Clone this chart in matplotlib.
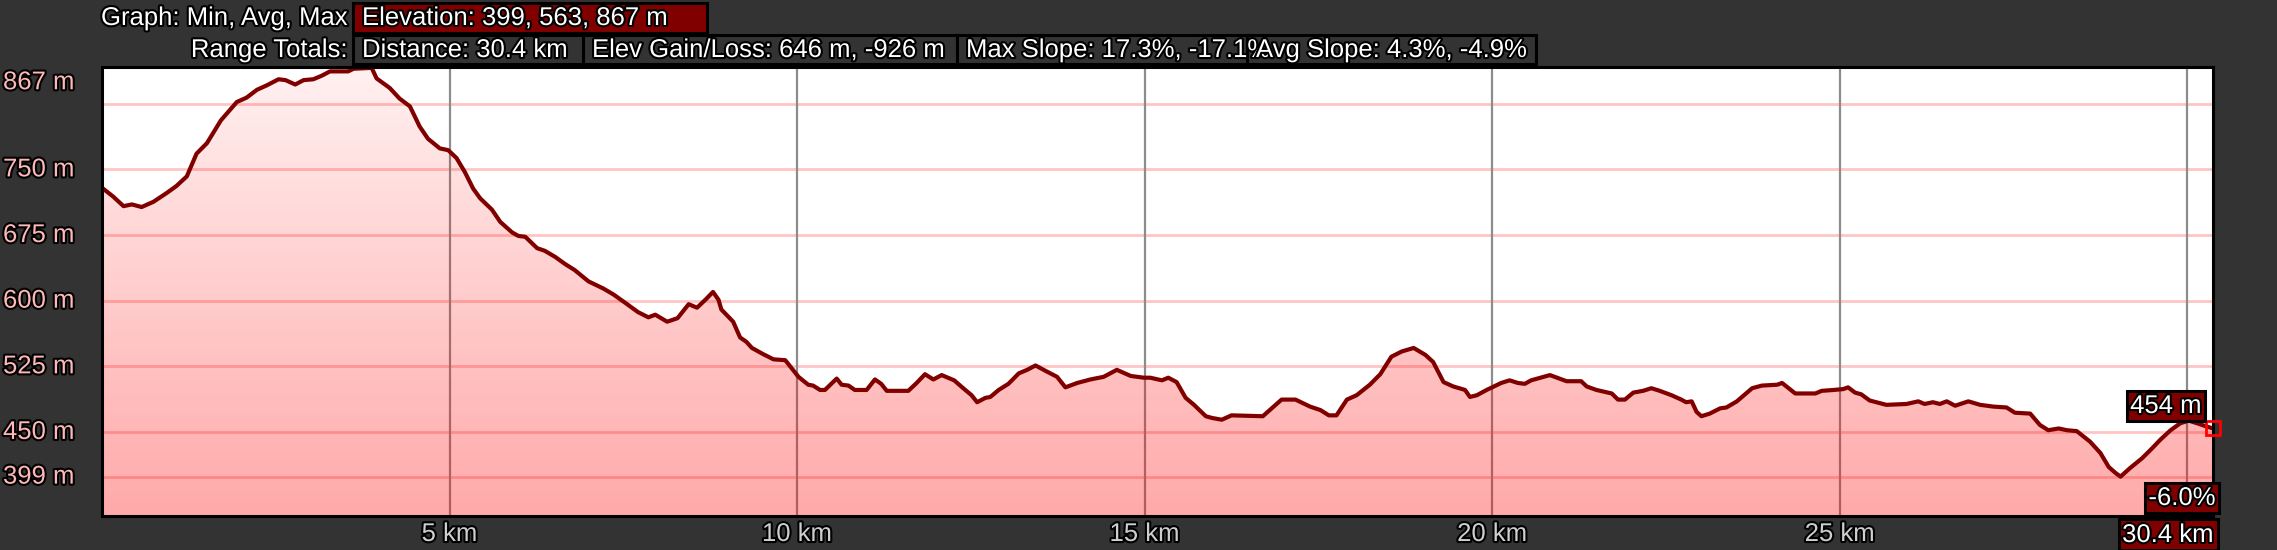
import numpy as np
import matplotlib
matplotlib.use("Agg")
import matplotlib.pyplot as plt
import matplotlib.patheffects as pe
from matplotlib.patches import Rectangle
from matplotlib.transforms import blended_transform_factory

plt.rcParams['font.family'] = ['Liberation Sans', 'DejaVu Sans']

# elevation profile
dist_km = [0.00, 0.16, 0.31, 0.43, 0.57, 0.74, 0.93, 1.07, 1.22, 1.36, 1.51, 1.71, 1.94, 2.08,
           2.23, 2.37, 2.54, 2.64, 2.78, 2.90, 3.04, 3.16, 3.28, 3.54, 3.62, 3.88, 3.95, 4.14,
           4.28, 4.43, 4.57, 4.69, 4.86, 4.98, 5.10, 5.22, 5.34, 5.44, 5.61, 5.73, 5.90, 5.99,
           6.09, 6.26, 6.37, 6.52, 6.66, 6.80, 7.00, 7.21, 7.36, 7.52, 7.71, 7.86, 7.96, 8.13,
           8.28, 8.44, 8.56, 8.68, 8.79, 8.87, 8.91, 9.08, 9.18, 9.27, 9.35, 9.51, 9.66, 9.83,
           10.02, 10.16, 10.23, 10.33, 10.40, 10.57, 10.64, 10.74, 10.83, 11.00, 11.12, 11.21,
           11.29, 11.60, 11.72, 11.84, 11.96, 12.08, 12.26, 12.39, 12.51, 12.59, 12.71, 12.78,
           12.90, 13.04, 13.19, 13.31, 13.43, 13.57, 13.74, 13.86, 14.03, 14.22, 14.41, 14.60,
           14.80, 14.99, 15.08, 15.25, 15.34, 15.46, 15.59, 15.71, 15.88, 15.97, 16.11, 16.25,
           16.70, 16.97, 17.17, 17.38, 17.53, 17.65, 17.76, 17.91, 18.05, 18.24, 18.39, 18.55,
           18.70, 18.87, 19.04, 19.15, 19.30, 19.44, 19.61, 19.68, 19.78, 19.92, 20.13, 20.25,
           20.37, 20.47, 20.56, 20.83, 21.07, 21.28, 21.36, 21.50, 21.72, 21.81, 21.91, 22.03,
           22.17, 22.29, 22.41, 22.58, 22.72, 22.79, 22.87, 22.94, 23.01, 23.13, 23.28, 23.37,
           23.52, 23.74, 23.88, 24.10, 24.17, 24.36, 24.65, 24.74, 24.91, 25.05, 25.12, 25.22,
           25.31, 25.43, 25.67, 25.96, 26.13, 26.22, 26.34, 26.44, 26.54, 26.66, 26.85, 27.02,
           27.21, 27.40, 27.52, 27.74, 27.88, 28.00, 28.15, 28.27, 28.41, 28.60, 28.75, 28.87,
           28.97, 29.04, 29.18, 29.35, 29.49, 29.61, 29.76, 29.90, 30.02, 30.14, 30.25, 30.37]
elev_m = [729, 719, 708, 710, 707, 713, 723, 731, 742, 768, 780, 806, 827, 832,
          841, 846, 853, 852, 847, 852, 853, 857, 862, 862, 865, 866, 854, 843,
          831, 822, 799, 785, 774, 772, 763, 747, 728, 717, 704, 690, 678, 674,
          673, 660, 657, 650, 642, 635, 622, 614, 607, 598, 587, 581, 584, 576,
          580, 596, 592, 601, 610, 601, 590, 576, 558, 553, 546, 539, 533, 532,
          513, 504, 503, 498, 498, 511, 504, 503, 498, 498, 510, 505,
          497, 497, 506, 516, 510, 515, 509, 500, 492, 484, 489, 490,
          498, 505, 517, 521, 526, 520, 513, 501, 506, 510, 513, 521,
          514, 512, 512, 509, 512, 507, 489, 481, 468, 466, 464, 469,
          468, 487, 487, 479, 475, 469, 469, 487, 492, 504, 516, 536,
          542, 546, 538, 530, 507, 502, 498, 490, 492, 498, 506, 509,
          506, 505, 509, 515, 508, 508, 502, 498, 494, 487, 487, 495,
          497, 500, 497, 492, 487, 484, 485, 473, 468, 471, 477, 478,
          485, 500, 503, 504, 506, 494, 494, 497, 498, 499, 501, 495,
          493, 486, 481, 482, 485, 482, 484, 482, 485, 480, 485, 481,
          479, 478, 472, 471, 458, 452, 454, 452, 451, 439, 426, 410,
          403, 399, 409, 420, 431, 441, 452, 460, 463, 460, 457, 454]

y_grid = [399, 450, 525, 600, 675, 750, 825]
y_labels = [399, 450, 525, 600, 675, 750, 867]
x_ticks = [5, 10, 15, 20, 25, 30]
x_labels = [5, 10, 15, 20, 25]

header_stats = {
    "elev": "Elevation: 399, 563, 867 m",
    "dist": "Distance: 30.4 km",
    "gain": "Elev Gain/Loss: 646 m, -926 m",
    "maxslope": "Max Slope: 17.3%, -17.1%",
    "avgslope": "Avg Slope: 4.3%, -4.9%",
}
end_slope = "-6.0%"

W, H = 2277, 550
BG = '#333333'
DARKRED = '#800000'
FS = 18.5
outline = [pe.withStroke(linewidth=3, foreground='black')]

fig = plt.figure(figsize=(W / 100, H / 100), dpi=100, facecolor=BG)
ax = fig.add_axes([102 / W, 1 - 516 / H, (2213 - 102) / W, (516 - 67) / H])
ax.set_facecolor('white')

x = np.array(dist_km)
y = np.array(elev_m)
ymin, ymax = 354, 867
ax.set_xlim(0, x[-1])
ax.set_ylim(ymin, ymax)

# grid lines
for g in y_grid:
    ax.axhline(g, color='#ffc4c4', lw=2, zorder=1)
for t in x_ticks:
    ax.axvline(t, color='#8c8c8c', lw=1.6, zorder=1)

# gradient fill under the profile
poly = ax.fill_between(x, y, ymin, facecolor='none', edgecolor='none')
grad = np.zeros((256, 2, 4))
grad[..., 0] = 1.0
grad[..., 3] = np.linspace(0.34, 0.06, 256)[:, None]
im = ax.imshow(grad, extent=[0, x[-1], ymin, ymax], origin='lower', aspect='auto',
               zorder=2, interpolation='bilinear')
im.set_clip_path(poly.get_paths()[0], ax.transData)

ax.plot(x, y, color=DARKRED, lw=3, zorder=3, solid_joinstyle='round')
ax.plot([x[-1]], [y[-1]], marker='s', ms=10, mfc='none', mec='#ff0000', mew=2,
        zorder=6, clip_on=False)

ax.set_xticks([])
ax.set_yticks([])
for s in ax.spines.values():
    s.set_color('black')
    s.set_linewidth(2.2)
    s.set_zorder(5)

# y labels
ytr = blended_transform_factory(fig.transFigure, ax.transData)
for v in y_labels:
    if v == ymax:
        ax.annotate(f"{v} m", xy=(3 / W, v), xycoords=ytr, xytext=(0, -11),
                    textcoords='offset points', ha='left', va='center', fontsize=FS,
                    color='#ffb8b8', path_effects=outline)
    else:
        ax.text(3 / W, v, f"{v} m", transform=ytr, ha='left', va='center', fontsize=FS,
                color='#ffb8b8', path_effects=outline)

# x labels
xtr = blended_transform_factory(ax.transData, fig.transFigure)
for v in x_labels:
    ax.text(v, 1 - 534 / H, f"{v} km", transform=xtr, ha='center', va='center',
            fontsize=FS, color='#cfcfcf', path_effects=outline)


def box(x0, y0, x1, y1, fc):
    fig.add_artist(Rectangle((x0 / W, 1 - y1 / H), (x1 - x0) / W, (y1 - y0) / H,
                             transform=fig.transFigure, fc=fc, ec='black', lw=2.2,
                             zorder=10))


def label(xp, yp, s, ha='left'):
    fig.text(xp / W, 1 - yp / H, s, ha=ha, va='center', fontsize=FS, color='white',
             path_effects=outline, zorder=11)


# header
label(348, 18, "Graph: Min, Avg, Max", ha='right')
box(353, 3, 707, 33, DARKRED)
label(362, 18, header_stats["elev"])

label(348, 50, "Range Totals:", ha='right')
row = [(353, 583, "dist"), (583, 957, "gain"), (957, 1247, "maxslope"), (1247, 1536, "avgslope")]
for x0, x1, key in row:
    box(x0, 35, x1, 64, BG)
for x0, x1, key in row:
    label(x0 + 9, 50, header_stats[key])

# readouts at the end of the profile
box(2127, 391, 2205, 421, DARKRED)
label(2166, 406, f"{y[-1]:.0f} m", ha='center')
box(2145, 483, 2219, 513, DARKRED)
label(2182, 498, end_slope, ha='center')
box(2119, 519, 2218, 550, DARKRED)
label(2168, 535, f"{x[-1]:.1f} km", ha='center')

fig.savefig("out.png", dpi=100, facecolor=BG)
